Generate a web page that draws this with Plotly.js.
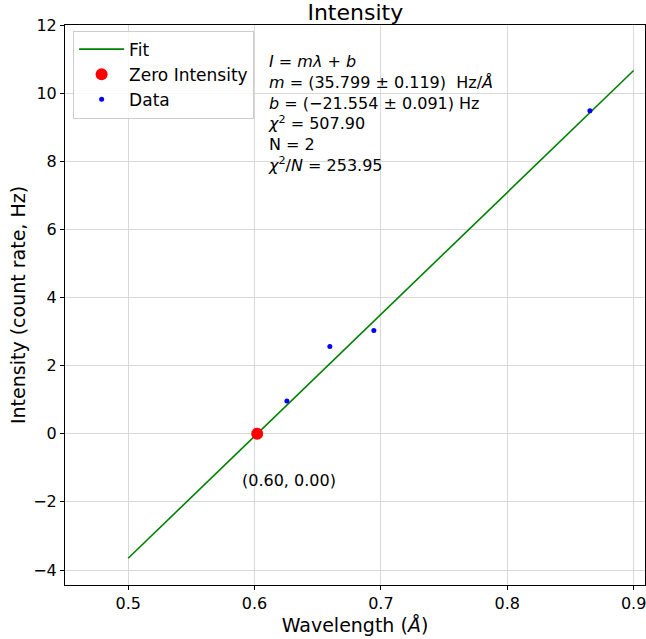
<!DOCTYPE html>
<html>
<head>
<meta charset="utf-8">
<script src="https://cdn.plot.ly/plotly-3.0.1.min.js"></script>
<style>body{margin:0;padding:0;background:#fff}#chart{width:646px;height:639px}</style>
</head>
<body>
<div id="chart"></div>
<script>
const slope = 35.799;
const intercept = -21.554;
const fitX = [0.5, 0.9];
const fitY = fitX.map(x => slope * x + intercept);
const dataX = [0.6256, 0.6596, 0.6944, 0.8654];
const dataY = [0.96, 2.56, 3.03, 9.48];
const dataErr = [0.04, 0.04, 0.04, 0.04];
const zeroX = [0.6021];
const zeroY = [0];
const zeroLabel = "(0.60, 0.00)";
const xTicks = [0.5, 0.6, 0.7, 0.8, 0.9];
const xTickText = ['0.5', '0.6', '0.7', '0.8', '0.9'];
const yTicks = [-4, -2, 0, 2, 4, 6, 8, 10, 12];

const font = "DejaVu Sans, sans-serif";

const traces = [
  {x: fitX, y: fitY, mode: 'lines', name: 'Fit', line: {color: '#008000', width: 1.6}},
  {x: zeroX, y: zeroY, mode: 'markers', name: 'Zero Intensity', marker: {color: '#ff0000', size: 12}},
  {x: dataX, y: dataY, mode: 'markers', name: 'Data', marker: {color: '#0000ff', size: 5},
   error_y: {type: 'data', array: dataErr, visible: true, color: '#0000ff', thickness: 1.2, width: 0}}
];

const layout = {
  width: 646, height: 639,
  margin: {l: 65, r: 1, t: 25, b: 54},
  paper_bgcolor: '#fff', plot_bgcolor: '#fff',
  font: {family: font, color: '#000', size: 16},
  title: {text: 'Intensity', font: {size: 22, family: font}, x: 0.55, xanchor: 'center', y: 0.993, yanchor: 'top'},
  showlegend: true,
  legend: {x: 0.014, y: 0.99, xanchor: 'left', yanchor: 'top', bgcolor: 'rgba(255,255,255,0.8)',
           bordercolor: '#cccccc', borderwidth: 1, font: {size: 17, family: font}, itemwidth: 45,
           tracegroupgap: 0},
  xaxis: {range: [0.45, 0.909], tickvals: xTicks, ticktext: xTickText, ticklabeloverflow: 'allow',
          showgrid: true, gridcolor: '#d9d9d9', gridwidth: 1, zeroline: false,
          showline: true, linecolor: '#000', linewidth: 1, mirror: true,
          ticks: 'outside', ticklen: 4, tickcolor: '#000', tickfont: {size: 16},
          title: {text: 'Wavelength (<i>Å</i>)', font: {size: 19}, standoff: 6}},
  yaxis: {range: [-4.44, 12], tickvals: yTicks,
          showgrid: true, gridcolor: '#d9d9d9', gridwidth: 1, zeroline: false,
          showline: true, linecolor: '#000', linewidth: 1, mirror: true,
          ticks: 'outside', ticklen: 4, tickcolor: '#000', tickfont: {size: 16},
          title: {text: 'Intensity (count rate, Hz)', font: {size: 19}, standoff: 2}},
  annotations: [
    {xref: 'paper', yref: 'paper', x: 0.347, y: 0.955, xanchor: 'left', yanchor: 'top', align: 'left', showarrow: false,
     font: {size: 16, family: font},
     text: '<i>I</i> = <i>m</i><i>λ</i> + <i>b</i><br><i>m</i> = (35.799 ± 0.119)  Hz/<i>Å</i><br><i>b</i> = (−21.554 ± 0.091) Hz<br><i>χ</i><sup>2</sup> = 507.90<br>N = 2<br><i>χ</i><sup>2</sup>/<i>N</i> = 253.95'},
    {xref: 'x', yref: 'y', x: 0.627, y: -1.38, xanchor: 'center', yanchor: 'middle', showarrow: false,
     font: {size: 16, family: font}, text: zeroLabel}
  ]
};

Plotly.newPlot('chart', traces, layout, {displayModeBar: false, staticPlot: true});
</script>
</body>
</html>
